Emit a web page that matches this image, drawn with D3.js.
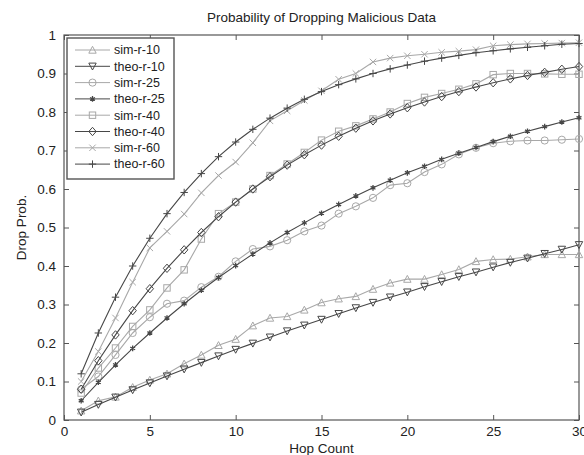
<!DOCTYPE html>
<html>
<head>
<meta charset="utf-8">
<script src="https://cdn.jsdelivr.net/npm/d3@7"></script>
<style>
  body { margin: 0; background: #fff; }
  text { font-family: "Liberation Sans", Arial, sans-serif; fill: #222; }
</style>
</head>
<body>
<script>
// hop counts 1..30
const hops = d3.range(1, 31);

// values
const simR10 = [0.024, 0.050, 0.060, 0.085, 0.104, 0.120, 0.146, 0.169, 0.194, 0.210,
  0.245, 0.265, 0.269, 0.286, 0.305, 0.315, 0.321, 0.340, 0.356, 0.366,
  0.366, 0.378, 0.391, 0.412, 0.417, 0.418, 0.424, 0.430, 0.430, 0.430];
const theoR10 = [0.020, 0.040, 0.059, 0.078, 0.096, 0.114, 0.132, 0.149, 0.166, 0.183,
  0.199, 0.215, 0.231, 0.246, 0.261, 0.276, 0.291, 0.305, 0.319, 0.332,
  0.346, 0.359, 0.372, 0.384, 0.397, 0.409, 0.420, 0.432, 0.443, 0.455];
const simR25 = [0.080, 0.113, 0.169, 0.226, 0.267, 0.302, 0.310, 0.345, 0.372, 0.412,
  0.444, 0.451, 0.467, 0.490, 0.505, 0.536, 0.555, 0.577, 0.610, 0.615,
  0.644, 0.664, 0.690, 0.707, 0.719, 0.724, 0.726, 0.726, 0.728, 0.730];
const theoR25 = [0.050, 0.098, 0.143, 0.186, 0.226, 0.265, 0.302, 0.337, 0.370, 0.401,
  0.431, 0.460, 0.487, 0.512, 0.537, 0.560, 0.582, 0.603, 0.623, 0.642,
  0.659, 0.677, 0.693, 0.708, 0.723, 0.737, 0.750, 0.762, 0.774, 0.785];
const simR40 = [0.070, 0.135, 0.187, 0.243, 0.286, 0.343, 0.390, 0.470, 0.536, 0.566,
  0.600, 0.635, 0.665, 0.695, 0.727, 0.750, 0.764, 0.782, 0.800, 0.822,
  0.838, 0.848, 0.859, 0.873, 0.897, 0.900, 0.900, 0.899, 0.898, 0.898];
const theoR40 = [0.080, 0.154, 0.221, 0.284, 0.341, 0.394, 0.442, 0.487, 0.528, 0.566,
  0.600, 0.632, 0.662, 0.689, 0.714, 0.737, 0.758, 0.777, 0.795, 0.811,
  0.826, 0.840, 0.853, 0.865, 0.876, 0.886, 0.895, 0.903, 0.911, 0.918];
const simR60 = [0.100, 0.178, 0.265, 0.358, 0.447, 0.490, 0.535, 0.590, 0.635, 0.670,
  0.720, 0.777, 0.803, 0.830, 0.855, 0.885, 0.900, 0.930, 0.940, 0.946,
  0.950, 0.955, 0.958, 0.962, 0.972, 0.975, 0.977, 0.978, 0.979, 0.980];
const theoR60 = [0.120, 0.226, 0.319, 0.400, 0.472, 0.536, 0.591, 0.640, 0.684, 0.722,
  0.755, 0.784, 0.810, 0.833, 0.853, 0.871, 0.886, 0.900, 0.912, 0.922,
  0.932, 0.940, 0.947, 0.954, 0.959, 0.964, 0.968, 0.972, 0.976, 0.978];

const seriesNames = ["sim-r-10", "theo-r-10", "sim-r-25", "theo-r-25",
  "sim-r-40", "theo-r-40", "sim-r-60", "theo-r-60"];
const seriesValues = [simR10, theoR10, simR25, theoR25, simR40, theoR40, simR60, theoR60];
const xTicks = [0, 5, 10, 15, 20, 25, 30];
const yTicks = [0, 0.1, 0.2, 0.3, 0.4, 0.5, 0.6, 0.7, 0.8, 0.9, 1];

// marker types, in series order
const markers = ["triUp", "triDown", "circle", "star", "square", "diamond", "cross", "plus"];

const W = 584, H = 455;
const margin = {top: 35, right: 5, bottom: 35, left: 64};
const width = W - margin.left - margin.right,
      height = H - margin.top - margin.bottom;

const svg = d3.select("body").append("svg")
    .attr("width", W)
    .attr("height", H);

const g = svg.append("g")
    .attr("transform", "translate(" + margin.left + "," + margin.top + ")");

const x = d3.scaleLinear().domain([0, 30]).range([0, width]);
const y = d3.scaleLinear().domain([0, 1]).range([height, 0]);

const simColor = "#a8a8a8", theoColor = "#474747";
const axisColor = "#555";

// axes (ticks pointing inward, on all four sides like matlab)
function styleAxis(sel) {
    sel.select(".domain").remove();
    sel.selectAll("line").attr("stroke", axisColor);
    sel.selectAll("text").style("font-size", "13.5px").attr("fill", "#222");
}
g.append("g")
    .attr("transform", "translate(0," + height + ")")
    .call(d3.axisBottom(x).tickValues(xTicks).tickSizeInner(-5).tickSizeOuter(0).tickPadding(6))
    .call(styleAxis);
g.append("g")
    .call(d3.axisTop(x).tickValues(xTicks).tickSizeInner(-5).tickSizeOuter(0).tickFormat(""))
    .call(styleAxis);
g.append("g")
    .call(d3.axisLeft(y).tickValues(yTicks).tickSizeInner(-5).tickSizeOuter(0).tickPadding(8)
        .tickFormat(d => d3.format("")(+d.toFixed(1))))
    .call(styleAxis);
g.append("g")
    .attr("transform", "translate(" + width + ",0)")
    .call(d3.axisRight(y).tickValues(yTicks).tickSizeInner(-5).tickSizeOuter(0).tickFormat(""))
    .call(styleAxis);

g.append("rect")
    .attr("width", width)
    .attr("height", height)
    .attr("fill", "none")
    .attr("stroke", axisColor)
    .attr("stroke-width", 1.2);

// marker drawing
function drawMarker(sel, type, color) {
    const s = 3.2;
    if (type === "circle") {
        sel.append("circle").attr("r", s + 0.4).attr("fill", "none").attr("stroke", color);
    } else if (type === "square") {
        sel.append("rect").attr("x", -s).attr("y", -s).attr("width", 2 * s).attr("height", 2 * s)
            .attr("fill", "none").attr("stroke", color);
    } else if (type === "diamond") {
        sel.append("path").attr("d", `M0,${-s - 1}L${s + 0.5},0L0,${s + 1}L${-s - 0.5},0Z`)
            .attr("fill", "none").attr("stroke", color);
    } else if (type === "triUp") {
        sel.append("path").attr("d", `M0,${-s - 0.5}L${s + 0.5},${s}L${-s - 0.5},${s}Z`)
            .attr("fill", "none").attr("stroke", color);
    } else if (type === "triDown") {
        sel.append("path").attr("d", `M0,${s + 0.5}L${s + 0.5},${-s}L${-s - 0.5},${-s}Z`)
            .attr("fill", "none").attr("stroke", color);
    } else if (type === "cross") {
        sel.append("path").attr("d", `M${-s},${-s}L${s},${s}M${-s},${s}L${s},${-s}`)
            .attr("stroke", color);
    } else if (type === "plus") {
        sel.append("path").attr("d", `M${-s - 0.5},0L${s + 0.5},0M0,${-s - 0.5}L0,${s + 0.5}`)
            .attr("stroke", color);
    } else if (type === "star") {
        sel.append("path").attr("d", d3.symbol(d3.symbolAsterisk, 22)())
            .attr("stroke", color).attr("stroke-width", 1.3);
    }
}

const line = d3.line()
    .x((d, i) => x(hops[i]))
    .y(d => y(d));

seriesValues.forEach((vals, k) => {
    const color = k % 2 === 0 ? simColor : theoColor;
    g.append("path")
        .datum(vals)
        .attr("fill", "none")
        .attr("stroke", color)
        .attr("stroke-width", 1.1)
        .attr("d", line);
    g.selectAll(".m" + k)
        .data(vals)
        .enter().append("g")
        .attr("class", "m" + k)
        .attr("transform", (d, i) => "translate(" + x(hops[i]) + "," + y(d) + ")")
        .each(function () { drawMarker(d3.select(this), markers[k], color); });
});

// legend
const legend = g.append("g").attr("transform", "translate(3,3)");
legend.append("rect")
    .attr("width", 107)
    .attr("height", 141)
    .attr("fill", "#fff")
    .attr("stroke", axisColor)
    .attr("stroke-width", 1.4);
seriesNames.forEach((name, k) => {
    const color = k % 2 === 0 ? simColor : theoColor;
    const ly = 12 + k * 16.3;
    const row = legend.append("g").attr("transform", "translate(0," + ly + ")");
    row.append("line").attr("x1", 8).attr("x2", 43).attr("y1", 0).attr("y2", 0)
        .attr("stroke", color);
    drawMarker(row.append("g").attr("transform", "translate(25.5,0)"), markers[k], color);
    row.append("text")
        .attr("x", 47)
        .attr("y", 0)
        .attr("dy", "0.35em")
        .style("font-size", "12.5px")
        .text(name);
});

// title and axis labels
svg.append("text")
    .attr("x", margin.left + width / 2)
    .attr("y", 22)
    .attr("text-anchor", "middle")
    .style("font-size", "13.5px")
    .text("Probability of Dropping Malicious Data");
svg.append("text")
    .attr("x", margin.left + width / 2)
    .attr("y", 453)
    .attr("text-anchor", "middle")
    .style("font-size", "13.5px")
    .text("Hop Count");
svg.append("text")
    .attr("transform", "translate(26," + (margin.top + height / 2) + ") rotate(-90)")
    .attr("text-anchor", "middle")
    .style("font-size", "13.5px")
    .text("Drop Prob.");
</script>
</body>
</html>
